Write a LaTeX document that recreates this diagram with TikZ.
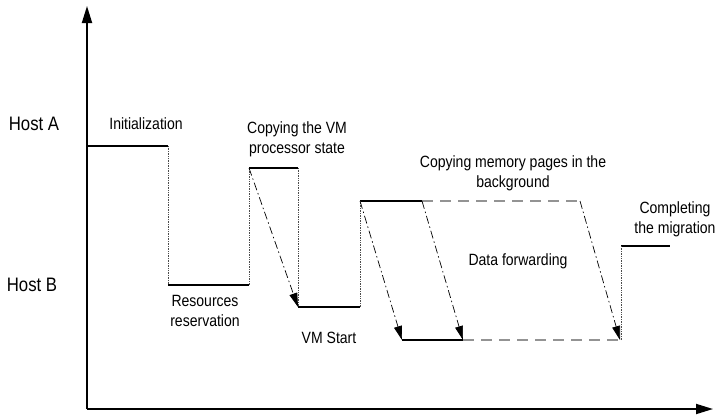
\documentclass[tikz,border=0pt]{standalone}
\usepackage{fontspec}
\setmainfont[FakeStretch=0.86]{Liberation Sans}
\usetikzlibrary{arrows.meta}
\begin{document}
\begin{tikzpicture}[x=1bp,y=-1bp,
  axis/.style={line width=1.8bp,-{Triangle[length=17bp,width=10bp]}},
  level/.style={line width=1.5bp},
  bglevel/.style={line width=1.5bp,gray!85,dash pattern=on 11bp off 7bp},
  drop/.style={line width=0.7bp,densely dotted,black!70},
  copyarrow/.style={line width=0.7bp,dash pattern=on 8bp off 3bp on 1.5bp off 3bp,-{Triangle[length=14bp,width=8bp]}},
  lbl/.style={font=\fontsize{16.3bp}{20bp}\selectfont,align=center,inner sep=0pt},
  host/.style={font=\fontsize{19.5bp}{22bp}\selectfont,inner sep=0pt}]
\useasboundingbox (0,0) rectangle (718,417);
% axes
\coordinate (O) at (87,409);
\coordinate (Ytop) at (87,6);
\coordinate (Xend) at (713,409);
\draw[axis] (O) -- (Ytop);
\draw[axis] (O) -- (Xend);
% points
\coordinate (a1) at (87,146);
\coordinate (a2) at (168,146);
\coordinate (b1) at (168,285);
\coordinate (b2) at (249,285);
\coordinate (a3) at (249,168);
\coordinate (a4) at (298,168);
\coordinate (b3) at (298,307);
\coordinate (b4) at (360,307);
\coordinate (a5) at (360,201);
\coordinate (a6) at (422,201);
\coordinate (a7) at (580,201);
\coordinate (b5) at (402,340);
\coordinate (b6) at (463,340);
\coordinate (b7) at (620,340);
\coordinate (a8) at (621,246);
\coordinate (b8) at (621,340);
\coordinate (a9) at (670,246);
% solid levels
\draw[level] (a1) -- (a2);
\draw[level] (b1) -- (b2);
\draw[level] (a3) -- (a4);
\draw[level] (b3) -- (b4);
\draw[level] (a5) -- (a6);
\draw[level] (b5) -- (b6);
\draw[level] (a8) -- (a9);
% background dashed levels
\draw[bglevel] (a6) -- (a7);
\draw[bglevel] (b6) -- (b7);
% dotted transitions
\draw[drop] (a2) -- (b1);
\draw[drop] (b2) -- (a3);
\draw[drop] (a4) -- (b3);
\draw[drop] (b4) -- (a5);
\draw[drop] (b8) -- (a8);
% copy arrows
\draw[copyarrow] (a3) -- (b3);
\draw[copyarrow] (a5) -- (b5);
\draw[copyarrow] (a6) -- (b6);
\draw[copyarrow] (a7) -- (b7);
% labels
\node[host] (hA) at (34,124) {Host A};
\node[host] (hB) at (32,285) {Host B};
\node[lbl] (init) at (146,124) {Initialization};
\node[lbl] (cpu) at (297,139) {Copying the VM\\processor state};
\node[lbl] (res) at (205,311) {Resources\\reservation};
\node[lbl] (vms) at (329,338) {VM Start};
\node[lbl] (mem) at (513,173) {Copying memory pages in the\\background};
\node[lbl] (fwd) at (518,261) {Data forwarding};
\node[lbl] (comp) at (675,219) {Completing\\the migration};
\end{tikzpicture}
\end{document}
